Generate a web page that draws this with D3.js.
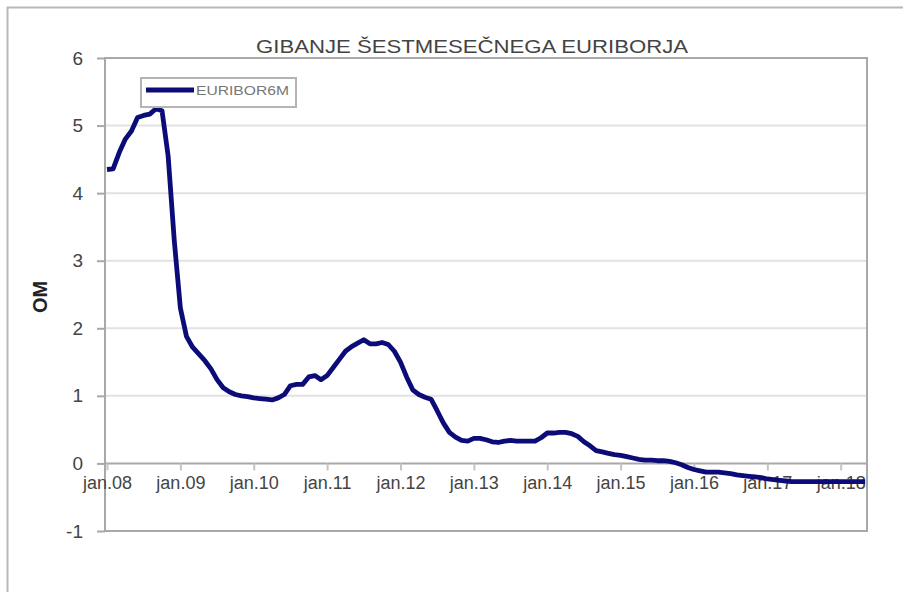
<!DOCTYPE html>
<html>
<head>
<meta charset="utf-8">
<script src="https://cdn.jsdelivr.net/npm/d3@7/dist/d3.min.js"></script>
<style>
  html, body { margin: 0; padding: 0; background: #fff; }
  svg { display: block; font-family: "Liberation Sans", Arial, sans-serif; }
</style>
</head>
<body>
<div id="chart"></div>
<script>
// Monthly 6M Euribor, jan.08 .. maj.18
const startYear = 2008;
const values2008 = [4.35, 4.36, 4.60, 4.80, 4.92, 5.12, 5.15, 5.17, 5.25, 5.22, 4.55, 3.30];
const values2009 = [2.30, 1.88, 1.72, 1.62, 1.52, 1.40, 1.24, 1.12, 1.06, 1.02, 1.00, 0.99];
const values2010 = [0.97, 0.96, 0.95, 0.94, 0.97, 1.02, 1.15, 1.17, 1.17, 1.28, 1.30, 1.24];
const values2011 = [1.30, 1.42, 1.54, 1.66, 1.73, 1.78, 1.83, 1.77, 1.77, 1.79, 1.76, 1.66];
const values2012 = [1.50, 1.28, 1.09, 1.02, 0.98, 0.95, 0.78, 0.60, 0.46, 0.39, 0.34, 0.33];
const values2013 = [0.37, 0.37, 0.35, 0.32, 0.31, 0.33, 0.34, 0.33, 0.33, 0.33, 0.33, 0.38];
const values2014 = [0.45, 0.45, 0.46, 0.46, 0.44, 0.40, 0.32, 0.26, 0.19, 0.17, 0.15, 0.13];
const values2015 = [0.12, 0.10, 0.08, 0.06, 0.05, 0.05, 0.04, 0.04, 0.03, 0.01, -0.02, -0.06];
const values2016 = [-0.09, -0.11, -0.13, -0.13, -0.13, -0.14, -0.15, -0.17, -0.18, -0.19, -0.20, -0.21];
const values2017 = [-0.23, -0.24, -0.25, -0.26, -0.27, -0.27, -0.27, -0.27, -0.27, -0.27, -0.27, -0.27];
const values2018 = [-0.27, -0.27, -0.27, -0.27, -0.27];

const xTickLabels = ['jan.08', 'jan.09', 'jan.10', 'jan.11', 'jan.12', 'jan.13',
                     'jan.14', 'jan.15', 'jan.16', 'jan.17', 'jan.18'];
const yTicks = [-1, 0, 1, 2, 3, 4, 5, 6];
const seriesName = 'EURIBOR6M';
const title = 'GIBANJE ŠESTMESEČNEGA EURIBORJA';
const yTitle = 'OM';

const allValues = [].concat(values2008, values2009, values2010, values2011, values2012,
    values2013, values2014, values2015, values2016, values2017, values2018);
const data = allValues.map((v, i) => ({ m: i, v }));

// Chart size
const W = 903, H = 592;
const plot = { left: 105, right: 867, top: 58, bottom: 531 };

const svg = d3.select('#chart')
    .append('svg')
    .attr('width', W)
    .attr('height', H);

// Outer frame (cut off at right/bottom)
svg.append('path')
    .attr('d', `M7.5,${H} V7.5 H${W}`)
    .attr('fill', 'none')
    .attr('stroke', '#b8b8b8')
    .attr('stroke-width', 2);

const xScale = d3.scaleLinear()
    .domain([0, 124.3])
    .range([plot.left + 2, plot.right]);

const yScale = d3.scaleLinear()
    .domain([-1, 6])
    .range([plot.bottom, plot.top]);

// Gridlines
svg.append('g')
    .selectAll('line')
    .data(yTicks.filter(d => d !== 0 && d !== -1 && d !== 6))
    .join('line')
    .attr('x1', plot.left)
    .attr('x2', plot.right)
    .attr('y1', d => yScale(d))
    .attr('y2', d => yScale(d))
    .attr('stroke', '#e2e2e2')
    .attr('stroke-width', 2);

// Plot border
svg.append('rect')
    .attr('x', plot.left)
    .attr('y', plot.top)
    .attr('width', plot.right - plot.left)
    .attr('height', plot.bottom - plot.top)
    .attr('fill', 'none')
    .attr('stroke', '#a8a8a8')
    .attr('stroke-width', 2);

// Y axis
const yAxis = d3.axisLeft(yScale)
    .tickValues(yTicks)
    .tickSize(8)
    .tickPadding(14)
    .tickFormat(d3.format('d'));

const gy = svg.append('g')
    .attr('transform', `translate(${plot.left},0)`)
    .call(yAxis);
gy.select('.domain').remove();
gy.selectAll('line').attr('stroke', '#a8a8a8').attr('stroke-width', 2);
gy.selectAll('text')
    .attr('fill', '#444')
    .style('font-size', '19px')
    .text(d => d < 0 ? '-' + Math.abs(d) : d);

// X axis at zero
const xAxis = d3.axisBottom(xScale)
    .tickValues(xTickLabels.map((d, i) => i * 12))
    .tickSize(7)
    .tickPadding(6)
    .tickFormat((d, i) => xTickLabels[i]);

const gx = svg.append('g')
    .attr('transform', `translate(0,${yScale(0)})`)
    .call(xAxis);
gx.select('.domain')
    .attr('d', `M${plot.left},0H${plot.right}`)
    .attr('stroke', '#a8a8a8')
    .attr('stroke-width', 2);
gx.selectAll('line').attr('stroke', '#c4c4c4').attr('stroke-width', 2);
gx.selectAll('text')
    .attr('fill', '#444')
    .style('font-size', '18px');

// Line
const line = d3.line()
    .x(d => xScale(d.m))
    .y(d => yScale(d.v));

svg.append('path')
    .datum(data)
    .attr('d', line)
    .attr('fill', 'none')
    .attr('stroke', '#0c0c78')
    .attr('stroke-width', 4.8)
    .attr('stroke-linejoin', 'round');

// Title
svg.append('text')
    .attr('x', 472)
    .attr('y', 53)
    .attr('text-anchor', 'middle')
    .attr('fill', '#444')
    .style('font-size', '19px')
    .attr('textLength', 432)
    .attr('lengthAdjust', 'spacingAndGlyphs')
    .text(title);

// Y axis title
svg.append('text')
    .attr('transform', 'translate(47,297) rotate(-90)')
    .attr('text-anchor', 'middle')
    .attr('fill', '#222')
    .style('font-size', '20px')
    .style('font-weight', 'bold')
    .text(yTitle);

// Legend
const legend = svg.append('g');
legend.append('rect')
    .attr('x', 141)
    .attr('y', 78)
    .attr('width', 155)
    .attr('height', 29)
    .attr('fill', '#fff')
    .attr('stroke', '#b4b4b4')
    .attr('stroke-width', 2);
legend.append('line')
    .attr('x1', 146)
    .attr('x2', 194)
    .attr('y1', 90)
    .attr('y2', 90)
    .attr('stroke', '#0c0c78')
    .attr('stroke-width', 4.8);
legend.append('text')
    .attr('x', 196)
    .attr('y', 95)
    .attr('fill', '#777')
    .style('font-size', '13px')
    .attr('textLength', 93)
    .attr('lengthAdjust', 'spacingAndGlyphs')
    .text(seriesName);
</script>
</body>
</html>
